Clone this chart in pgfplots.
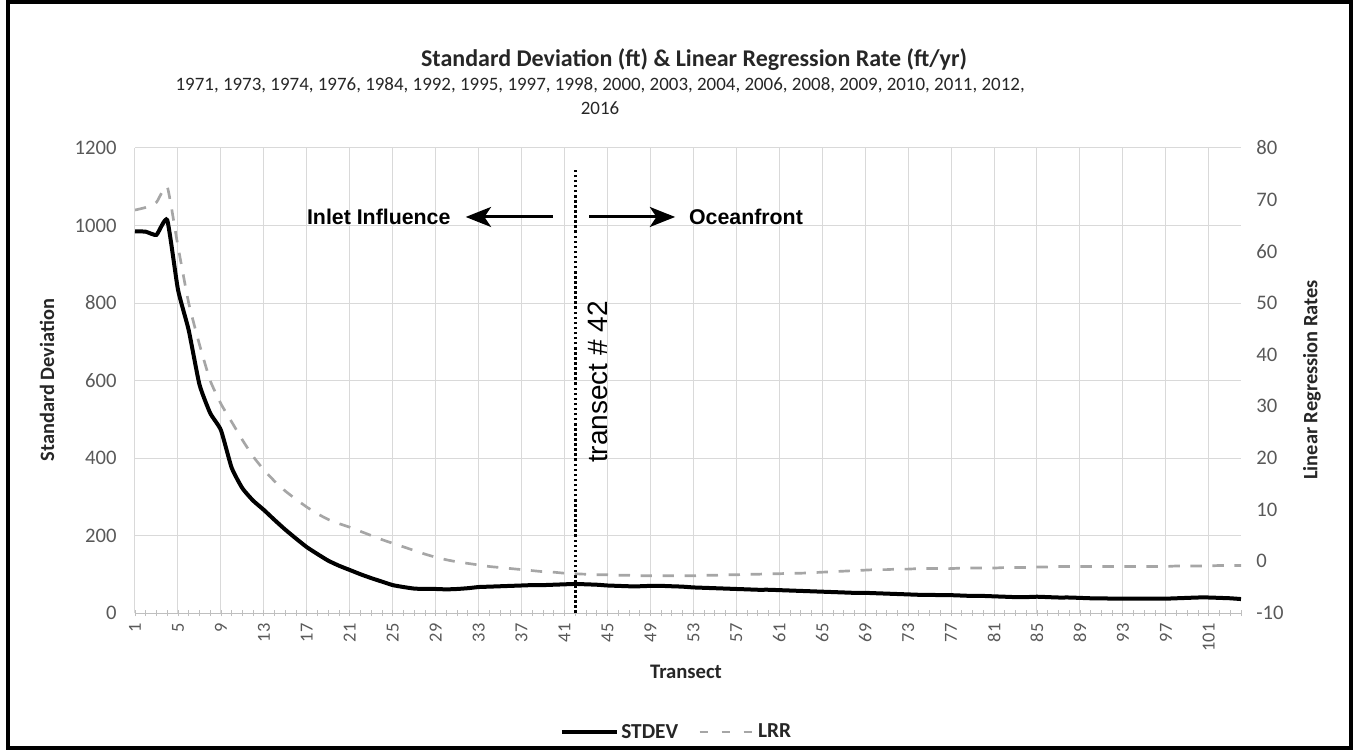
\documentclass[border=0pt]{standalone}
\usepackage{fontspec}
\setmainfont{Carlito}
\newfontfamily\arial{Liberation Sans}
\usepackage{pgfplots}
\pgfplotsset{compat=1.18}
\usetikzlibrary{arrows.meta}
\definecolor{gridc}{HTML}{D9D9D9}
\definecolor{axisc}{HTML}{BFBFBF}
\definecolor{tickc}{HTML}{595959}
\definecolor{textc}{HTML}{262626}
\definecolor{lrrc}{HTML}{A6A6A6}
\pgfplotsset{
  /pgf/number format/assume math mode=true,
  /pgf/number format/1000 sep={},
}
\begin{document}
\begin{tikzpicture}[x=0.75pt,y=0.75pt]
\useasboundingbox (-135,-138) rectangle (1222,613);
\draw[line width=2.5pt] (-127,-135) rectangle (1216,611);
\begin{axis}[
  at={(0,0)}, anchor=south west, scale only axis,
  width=829.5pt, height=348.75pt,
  xmin=1, xmax=104, ymin=0, ymax=1200,
  axis lines*=left,
  xtick={1,5,...,101}, minor xtick={1,...,104},
  ytick={0,200,...,1200},
  xmajorgrids, ymajorgrids,
  grid style={gridc, line width=0.75pt},
  tick align=center, major tick length=4.5pt, minor tick length=4.5pt,
  x tick style={axisc, line width=0.6pt},
  y tick style={draw=none},
  x axis line style={axisc, line width=0.75pt},
  y axis line style={draw=none},
  xticklabel style={rotate=90, anchor=east, font=\fontsize{13.8}{13.8}\selectfont, text=tickc, xshift=-2pt},
  yticklabel style={font=\fontsize{15.5}{15.5}\selectfont, text=tickc, xshift=-8pt},
  clip=false,
]
\addplot[black, line width=3pt, smooth, tension=0.3] table[row sep=\\] {
x y\\
1 985\\ 2 984\\ 3 976\\ 4 1014\\ 5 835\\ 6 730\\ 7 590\\ 8 516\\ 9 472\\ 10 375\\
11 322\\ 12 290\\ 13 266\\ 14 240\\ 15 215\\ 16 192\\ 17 170\\ 18 152\\ 19 135\\ 20 122\\
21 111\\ 22 100\\ 23 90\\ 24 81\\ 25 72\\ 26 67\\ 27 63\\ 28 62\\ 29 62\\ 30 61\\
31 62\\ 32 64\\ 33 67\\ 34 68\\ 35 69\\ 36 70\\ 37 71\\ 38 72\\ 39 72\\ 40 73\\
41 74\\ 42 75\\ 43 74\\ 44 73\\ 45 71\\ 46 70\\ 47 69\\ 48 69\\ 49 70\\ 50 70\\
51 69\\ 52 68\\ 53 66\\ 54 65\\ 55 64\\ 56 63\\ 57 62\\ 58 61\\ 59 60\\ 60 60\\
61 59\\ 62 58\\ 63 57\\ 64 56\\ 65 55\\ 66 54\\ 67 53\\ 68 52\\ 69 52\\ 70 51\\
71 50\\ 72 49\\ 73 48\\ 74 47\\ 75 47\\ 76 46\\ 77 46\\ 78 45\\ 79 44\\ 80 44\\
81 43\\ 82 42\\ 83 41\\ 84 41\\ 85 42\\ 86 41\\ 87 40\\ 88 40\\ 89 39\\ 90 38\\
91 38\\ 92 37\\ 93 37\\ 94 37\\ 95 37\\ 96 37\\ 97 37\\ 98 38\\ 99 39\\ 100 40\\
101 40\\ 102 39\\ 103 38\\ 104 36\\
};
\draw[black, line width=1.9pt, dash pattern=on 1.9pt off 1.9pt] (axis cs:42,0) -- (axis cs:42,1143);
\node[font=\arial\bfseries\fontsize{16}{16}\selectfont] at (axis cs:23.7,1022) {Inlet Influence};
\node[font=\arial\bfseries\fontsize{16}{16}\selectfont] at (axis cs:57.9,1022) {Oceanfront};
\draw[line width=2.25pt, -{Stealth[length=19pt, width=15pt, inset=5pt]}] (axis cs:39.9,1022) -- (axis cs:31.8,1022);
\draw[line width=2.25pt, -{Stealth[length=19pt, width=15pt, inset=5pt]}] (axis cs:43.3,1022) -- (axis cs:51.3,1022);
\node[rotate=90, font=\arial\fontsize{21}{21}\selectfont] at (axis cs:44.1,596) {transect \# 42};
\end{axis}
\begin{axis}[
  at={(0,0)}, anchor=south west, scale only axis,
  width=829.5pt, height=348.75pt,
  xmin=1, xmax=104, ymin=-10, ymax=80,
  axis y line*=right, axis x line=none,
  ytick={-10,0,...,80},
  y tick style={draw=none},
  y axis line style={draw=none},
  yticklabel style={font=\fontsize{15.5}{15.5}\selectfont, text=tickc, xshift=8pt},
  legend style={at={(0.49,-0.256)}, anchor=center, draw=none, fill=none,
    legend columns=2, font=\bfseries\fontsize{16}{16}\selectfont, text=textc,
    /tikz/every even column/.append style={column sep=13pt}},
  legend image code/.code={\draw[#1] (0pt,0pt) -- (41pt,0pt);},
]
\addlegendimage{black, line width=3pt}
\addlegendentry{STDEV}
\addlegendimage{lrrc, line width=2pt, dash pattern=on 6.5pt off 10pt}
\addlegendentry{LRR}
\addplot[lrrc, line width=2pt, dash pattern=on 8.5pt off 8pt, smooth, tension=0.3, forget plot] table[row sep=\\] {
x y\\
1 68\\ 2 68.5\\ 3 69.5\\ 4 72.5\\ 5 61\\ 6 50\\ 7 42\\ 8 35\\ 9 30.5\\ 10 27\\
11 23.5\\ 12 20.3\\ 13 17.7\\ 14 15.5\\ 15 13.6\\ 16 12\\ 17 10.5\\ 18 9.2\\ 19 8.1\\ 20 7.3\\
21 6.6\\ 22 5.8\\ 23 5\\ 24 4.2\\ 25 3.5\\ 26 2.8\\ 27 2.1\\ 28 1.4\\ 29 0.8\\ 30 0.3\\
31 -0.1\\ 32 -0.4\\ 33 -0.7\\ 34 -1.0\\ 35 -1.2\\ 36 -1.4\\ 37 -1.6\\ 38 -1.8\\ 39 -2.0\\ 40 -2.1\\
41 -2.3\\ 42 -2.4\\ 43 -2.5\\ 44 -2.6\\ 45 -2.6\\ 46 -2.7\\ 47 -2.7\\ 48 -2.8\\ 49 -2.8\\ 50 -2.8\\
51 -2.8\\ 52 -2.8\\ 53 -2.8\\ 54 -2.7\\ 55 -2.7\\ 56 -2.6\\ 57 -2.6\\ 58 -2.5\\ 59 -2.5\\ 60 -2.4\\
61 -2.4\\ 62 -2.3\\ 63 -2.3\\ 64 -2.2\\ 65 -2.1\\ 66 -2.0\\ 67 -1.9\\ 68 -1.8\\ 69 -1.7\\ 70 -1.6\\
71 -1.6\\ 72 -1.5\\ 73 -1.5\\ 74 -1.4\\ 75 -1.4\\ 76 -1.4\\ 77 -1.4\\ 78 -1.3\\ 79 -1.3\\ 80 -1.3\\
81 -1.3\\ 82 -1.2\\ 83 -1.2\\ 84 -1.2\\ 85 -1.1\\ 86 -1.1\\ 87 -1.0\\ 88 -1.0\\ 89 -1.0\\ 90 -1.0\\
91 -1.0\\ 92 -1.0\\ 93 -1.0\\ 94 -1.0\\ 95 -1.0\\ 96 -1.0\\ 97 -1.0\\ 98 -0.9\\ 99 -0.9\\ 100 -0.9\\
101 -0.9\\ 102 -0.8\\ 103 -0.8\\ 104 -0.8\\
};
\end{axis}
\node[font=\bfseries\fontsize{18}{18}\selectfont, text=textc] at (559,553) {Standard Deviation (ft) \& Linear Regression Rate (ft/yr)};
\node[font=\fontsize{14.2}{14.2}\selectfont, text=textc] at (465,528) {1971, 1973, 1974, 1976, 1984, 1992, 1995, 1997, 1998, 2000, 2003, 2004, 2006, 2008, 2009, 2010, 2011, 2012,};
\node[font=\fontsize{14.2}{14.2}\selectfont, text=textc] at (465,505) {2016};
\node[rotate=90, font=\bfseries\fontsize{15.3}{15.3}\selectfont, text=textc] at (-88,233) {Standard Deviation};
\node[rotate=90, font=\bfseries\fontsize{15.3}{15.3}\selectfont, text=textc] at (1177,233) {Linear Regression Rates};
\node[font=\bfseries\fontsize{15.5}{15.5}\selectfont, text=textc] at (551,-59) {Transect};
\end{tikzpicture}
\end{document}
